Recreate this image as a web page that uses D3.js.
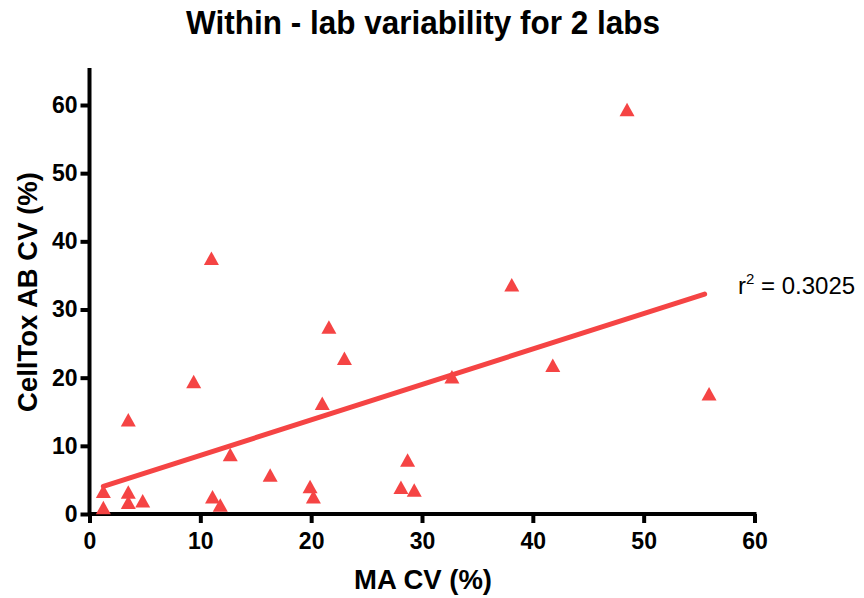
<!DOCTYPE html>
<html>
<head>
<meta charset="utf-8">
<script src="https://cdn.jsdelivr.net/npm/d3@7"></script>
<style>
  body { margin: 0; background: #fff; }
  text { font-family: "Liberation Sans", Arial, sans-serif; }
</style>
</head>
<body>
<script>
// values
var maCV = [1.25, 1.25, 3.5, 3.5, 3.5, 4.8, 9.4, 11.0, 11.1, 11.8, 12.7, 16.3, 19.9, 20.2,
  21.0, 21.6, 23.0, 28.1, 28.7, 29.3, 32.7, 38.1, 41.8, 48.5, 55.9];
var cellToxCV = [3.3, 0.9, 13.8, 3.2, 1.7, 1.9, 19.4, 37.5, 2.5, 1.3, 8.7, 5.7, 4.0, 2.5,
  16.2, 27.4, 22.8, 3.9, 7.9, 3.5, 20.1, 33.6, 21.8, 59.3, 17.6];
var xTicks = [0, 10, 20, 30, 40, 50, 60];
var yTicks = [0, 10, 20, 30, 40, 50, 60];
var fitSlope = 0.52;
var fitIntercept = 3.4;
var rSquared = "0.3025";

const w = 864, h = 598;
const red = "#f54444";

var svg = d3.select("body").append("svg")
  .attr("width", w)
  .attr("height", h);

var xScale = d3.scaleLinear().domain([0, 60]).range([89.5, 754.5]);
var yScale = d3.scaleLinear().domain([0, 60]).range([514, 105]);

// title
svg.append("text")
  .attr("transform", "translate(423,34) scale(1,1.08)")
  .attr("text-anchor", "middle")
  .attr("font-size", 31.5)
  .attr("font-weight", "bold")
  .text("Within - lab variability for 2 labs");

// x axis
var xAxis = svg.append("g")
  .attr("transform", "translate(0," + yScale(0) + ")")
  .call(d3.axisBottom(xScale).tickValues(xTicks).tickSize(9).tickPadding(10).tickSizeOuter(0));
xAxis.select(".domain").attr("stroke-width", 4).attr("d", "M" + xScale(0) + ",0H" + (xScale(60) + 2));
xAxis.selectAll(".tick line").attr("stroke-width", 4);
xAxis.selectAll(".tick text")
  .attr("font-size", 23)
  .attr("font-weight", "bold")
  .attr("font-family", "Liberation Sans, Arial, sans-serif")
  .attr("fill", "#000");

// y axis
var yAxis = svg.append("g")
  .attr("transform", "translate(" + xScale(0) + ",0)")
  .call(d3.axisLeft(yScale).tickValues(yTicks).tickSize(9).tickPadding(3).tickSizeOuter(0));
yAxis.select(".domain").attr("stroke-width", 4).attr("d", "M0," + (yScale(0) + 2) + "V68");
yAxis.selectAll(".tick line").attr("stroke-width", 4);
yAxis.selectAll(".tick text")
  .attr("font-size", 23)
  .attr("font-weight", "bold")
  .attr("font-family", "Liberation Sans, Arial, sans-serif")
  .attr("fill", "#000");

// axis titles
svg.append("text")
  .attr("x", 423)
  .attr("y", 589)
  .attr("text-anchor", "middle")
  .attr("font-size", 27.5)
  .attr("font-weight", "bold")
  .text("MA CV (%)");

svg.append("text")
  .attr("transform", "translate(37," + 292 + ") rotate(-90)")
  .attr("text-anchor", "middle")
  .attr("font-size", 27.5)
  .attr("font-weight", "bold")
  .text("CellTox AB CV (%)");

// regression line over the range of the data
var xExt = d3.extent(maCV);
svg.append("line")
  .attr("x1", xScale(xExt[0]))
  .attr("y1", yScale(fitIntercept + fitSlope * xExt[0]))
  .attr("x2", xScale(xExt[1] - 0.4))
  .attr("y2", yScale(fitIntercept + fitSlope * (xExt[1] - 0.4)))
  .attr("stroke", red)
  .attr("stroke-width", 5)
  .attr("stroke-linecap", "round");

// points
var points = maCV.map((d, i) => [d, cellToxCV[i]]);
svg.selectAll("path.pt")
  .data(points)
  .enter()
  .append("path")
  .attr("class", "pt")
  .attr("d", "M0,-7L7.5,6.5L-7.5,6.5Z")
  .attr("transform", (d) => "translate(" + xScale(d[0]) + "," + yScale(d[1]) + ")")
  .attr("fill", red);

// r squared label
var rl = svg.append("text")
  .attr("x", 738)
  .attr("y", 294)
  .attr("font-size", 24);
rl.append("tspan").text("r");
rl.append("tspan").attr("font-size", 15).attr("dy", -10).text("2");
rl.append("tspan").attr("dy", 10).text(" = " + rSquared);
</script>
</body>
</html>
